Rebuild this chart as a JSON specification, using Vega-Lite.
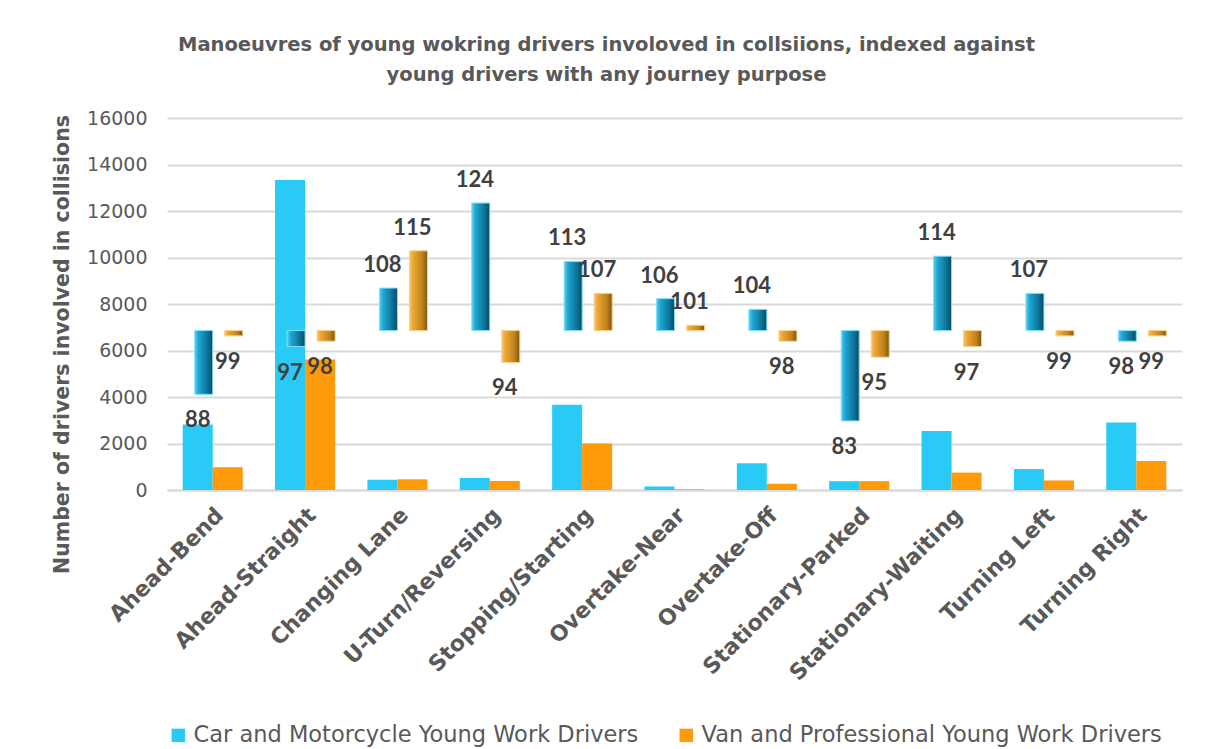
{
  "$schema": "https://vega.github.io/schema/vega-lite/v6.json",
  "width": 1206,
  "height": 749,
  "autosize": {"type": "fit", "contains": "padding"},
  "padding": {"left": 52, "right": 24, "top": 34, "bottom": 2},
  "background": "white",
  "title": {
    "text": ["Manoeuvres of young wokring drivers involoved in collsiions, indexed against", "young drivers with any journey purpose"],
    "anchor": "middle",
    "font": "DejaVu Sans",
    "fontSize": 19.5,
    "fontWeight": "bold",
    "color": "#595959",
    "lineHeight": 30,
    "offset": 24,
    "dx": -68
  },
  "config": {
    "view": {"stroke": null},
    "axis": {"labelFont": "DejaVu Sans", "titleFont": "DejaVu Sans"},
    "legend": {"labelFont": "DejaVu Sans"}
  },
  "data": {
    "values": [
      {"category": "Ahead-Bend", "series": "Car and Motorcycle Young Work Drivers", "drivers": 2820, "index": 88},
      {"category": "Ahead-Straight", "series": "Car and Motorcycle Young Work Drivers", "drivers": 13330, "index": 97},
      {"category": "Changing Lane", "series": "Car and Motorcycle Young Work Drivers", "drivers": 440, "index": 108},
      {"category": "U-Turn/Reversing", "series": "Car and Motorcycle Young Work Drivers", "drivers": 520, "index": 124},
      {"category": "Stopping/Starting", "series": "Car and Motorcycle Young Work Drivers", "drivers": 3670, "index": 113},
      {"category": "Overtake-Near", "series": "Car and Motorcycle Young Work Drivers", "drivers": 150, "index": 106},
      {"category": "Overtake-Off", "series": "Car and Motorcycle Young Work Drivers", "drivers": 1150, "index": 104},
      {"category": "Stationary-Parked", "series": "Car and Motorcycle Young Work Drivers", "drivers": 380, "index": 83},
      {"category": "Stationary-Waiting", "series": "Car and Motorcycle Young Work Drivers", "drivers": 2540, "index": 114},
      {"category": "Turning Left", "series": "Car and Motorcycle Young Work Drivers", "drivers": 900, "index": 107},
      {"category": "Turning Right", "series": "Car and Motorcycle Young Work Drivers", "drivers": 2900, "index": 98},
      {"category": "Ahead-Bend", "series": "Van and Professional Young Work Drivers", "drivers": 980, "index": 99},
      {"category": "Ahead-Straight", "series": "Van and Professional Young Work Drivers", "drivers": 5610, "index": 98},
      {"category": "Changing Lane", "series": "Van and Professional Young Work Drivers", "drivers": 460, "index": 115},
      {"category": "U-Turn/Reversing", "series": "Van and Professional Young Work Drivers", "drivers": 390, "index": 94},
      {"category": "Stopping/Starting", "series": "Van and Professional Young Work Drivers", "drivers": 2000, "index": 107},
      {"category": "Overtake-Near", "series": "Van and Professional Young Work Drivers", "drivers": 30, "index": 101},
      {"category": "Overtake-Off", "series": "Van and Professional Young Work Drivers", "drivers": 270, "index": 98},
      {"category": "Stationary-Parked", "series": "Van and Professional Young Work Drivers", "drivers": 380, "index": 95},
      {"category": "Stationary-Waiting", "series": "Van and Professional Young Work Drivers", "drivers": 750, "index": 97},
      {"category": "Turning Left", "series": "Van and Professional Young Work Drivers", "drivers": 410, "index": 99},
      {"category": "Turning Right", "series": "Van and Professional Young Work Drivers", "drivers": 1250, "index": 99}
    ]
  },
  "encoding": {
    "x": {
      "field": "category",
      "type": "nominal",
      "sort": null,
      "scale": {"paddingInner": 0.35, "paddingOuter": 0.17},
      "axis": {
        "title": null,
        "labelAngle": -45,
        "labelFontSize": 22,
        "labelFontWeight": "bold",
        "labelColor": "#595959",
        "labelPadding": 14,
        "labelLimit": 0,
        "ticks": false,
        "domainColor": "#D9D9D9",
        "domainWidth": 2
      }
    },
    "xOffset": {
      "field": "series",
      "type": "nominal",
      "scale": {"domain": ["Car and Motorcycle Young Work Drivers", "Van and Professional Young Work Drivers"], "paddingInner": 0, "paddingOuter": 0}
    }
  },
  "layer": [
    {
      "mark": {"type": "bar"},
      "encoding": {
        "y": {
          "field": "drivers",
          "type": "quantitative",
          "scale": {"domain": [0, 16000]},
          "axis": {
            "title": "Number of drivers involved in collisions",
            "titleFontSize": 20.5,
            "titleFontWeight": "bold",
            "titleColor": "#595959",
            "titlePadding": 14,
            "titleY": 226,
            "values": [0, 2000, 4000, 6000, 8000, 10000, 12000, 14000, 16000],
            "format": "d",
            "labelFontSize": 19,
            "labelColor": "#595959",
            "labelPadding": 20,
            "ticks": false,
            "domain": false,
            "gridColor": "#D9D9D9",
            "gridWidth": 2
          }
        },
        "color": {
          "field": "series",
          "type": "nominal",
          "scale": {"domain": ["Car and Motorcycle Young Work Drivers", "Van and Professional Young Work Drivers"], "range": ["#29CBF6", "#FF9A0A"]},
          "legend": {
            "title": null,
            "orient": "bottom",
            "direction": "horizontal",
            "symbolType": "square",
            "symbolSize": 180,
            "labelFontSize": 22.5,
            "labelColor": "#595959",
            "labelLimit": 0,
            "columnPadding": 36,
            "offset": 40
          }
        }
      }
    },
    {
      "transform": [{"filter": "datum.series === 'Car and Motorcycle Young Work Drivers'"}],
      "mark": {
        "type": "bar",
        "width": {"band": 0.6},
        "stroke": "#7FE0F8",
        "strokeWidth": 1,
        "fill": {"gradient": "linear", "x1": 0, "x2": 1, "y1": 0, "y2": 0, "stops": [
          {"offset": 0, "color": "#56D2F2"},
          {"offset": 0.2, "color": "#1FA8D3"},
          {"offset": 0.7, "color": "#0D7499"},
          {"offset": 1, "color": "#0A4A63"}
        ]}
      },
      "encoding": {
        "y": {"field": "index", "type": "quantitative", "scale": {"domain": [70, 140]}, "axis": null},
        "y2": {"datum": 100}
      }
    },
    {
      "transform": [{"filter": "datum.series === 'Van and Professional Young Work Drivers'"}],
      "mark": {
        "type": "bar",
        "width": {"band": 0.6},
        "stroke": "#F8D08A",
        "strokeWidth": 1,
        "fill": {"gradient": "linear", "x1": 0, "x2": 1, "y1": 0, "y2": 0, "stops": [
          {"offset": 0, "color": "#F9C66A"},
          {"offset": 0.2, "color": "#EBA635"},
          {"offset": 0.7, "color": "#C0821C"},
          {"offset": 1, "color": "#7E560F"}
        ]}
      },
      "encoding": {
        "y": {"field": "index", "type": "quantitative", "scale": {"domain": [70, 140]}, "axis": null},
        "y2": {"datum": 100}
      }
    },
    {
      "transform": [{"filter": "datum.index > 100"}],
      "mark": {"type": "text", "baseline": "bottom", "dy": -11, "font": "Lato", "fontSize": 22, "fontWeight": "bold", "color": "#404040"},
      "encoding": {
        "y": {"field": "index", "type": "quantitative", "scale": {"domain": [70, 140]}, "axis": null},
        "text": {"field": "index", "type": "quantitative"}
      }
    },
    {
      "transform": [{"filter": "datum.index < 100"}],
      "mark": {"type": "text", "baseline": "top", "dy": 16, "font": "Lato", "fontSize": 22, "fontWeight": "bold", "color": "#404040"},
      "encoding": {
        "y": {"field": "index", "type": "quantitative", "scale": {"domain": [70, 140]}, "axis": null},
        "text": {"field": "index", "type": "quantitative"}
      }
    }
  ],
  "resolve": {"scale": {"y": "independent"}}
}
